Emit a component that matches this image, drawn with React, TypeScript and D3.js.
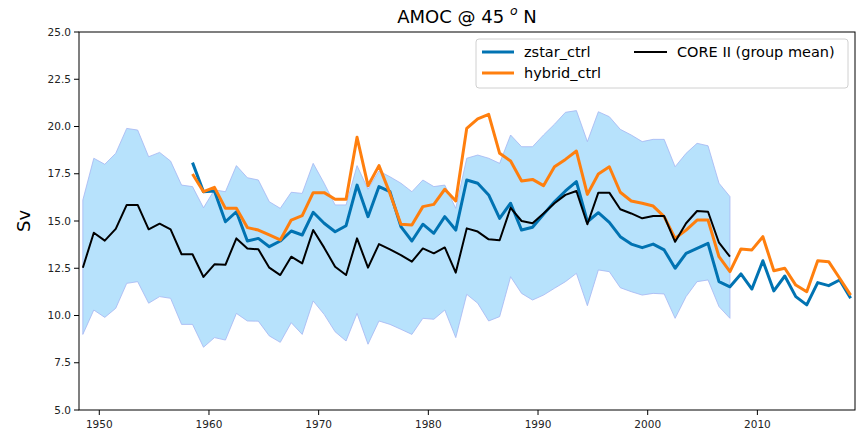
import React from "react";
import * as d3 from "d3";

// Annual means, plotted at mid-year
const coreYears = d3.range(1948.5, 2008, 1);
const coreMean = [
  12.53, 14.38, 13.96, 14.58, 15.85, 15.85, 14.56, 14.86, 14.56, 13.24,
  13.24, 12.04, 12.71, 12.68, 14.08, 13.55, 13.5, 12.53, 12.14, 13.11,
  12.76, 14.52, 13.59, 12.58, 12.14, 14.08, 12.53, 13.78, 13.5, 13.2,
  12.85, 13.55, 13.29, 13.6, 12.27, 14.61, 14.44, 14.03, 13.98, 15.7,
  15.0, 14.88, 15.4, 15.94, 16.38, 16.59, 14.83, 16.5, 16.5, 15.62,
  15.4, 15.14, 15.26, 15.26, 13.9, 14.88, 15.53, 15.49, 13.85, 13.11,
];
const coreUpper = [
  16.11, 18.32, 18.0, 18.58, 19.9, 19.81, 18.4, 18.63, 18.17, 16.9,
  16.82, 15.7, 16.65, 16.55, 17.93, 17.29, 17.17, 16.02, 15.67, 16.52,
  16.46, 18.05, 17.0, 15.85, 15.85, 17.93, 16.68, 17.65, 17.34, 17.0,
  16.55, 17.17, 16.82, 16.9, 15.67, 18.32, 18.49, 18.32, 18.05, 19.55,
  18.93, 18.93, 19.55, 20.12, 20.75, 20.84, 19.2, 20.78, 20.52, 19.85,
  19.55, 19.2, 19.32, 19.32, 17.87, 18.58, 19.11, 18.98, 17.0, 16.29,
];
const coreLower = [
  9.0, 10.29, 9.9, 10.38, 11.7, 11.79, 10.65, 11.0, 10.91, 9.53,
  9.53, 8.32, 8.83, 8.7, 10.11, 9.71, 9.7, 8.92, 8.58, 9.62,
  9.0, 10.77, 10.06, 9.14, 8.65, 10.11, 8.48, 9.71, 9.53, 9.27,
  9.0, 9.85, 9.8, 10.29, 8.83, 11.12, 10.65, 9.71, 9.94, 12.05,
  11.17, 10.82, 11.08, 11.44, 11.79, 12.23, 10.52, 12.41, 12.32, 11.47,
  11.26, 11.08, 11.17, 11.14, 9.85, 11.0, 11.79, 11.88, 10.47, 9.85,
];

const runYears = d3.range(1958.5, 2019, 1);
const zstarCtrl = [
  18.09, 16.55, 16.59, 14.96, 15.49, 13.94, 14.08, 13.64, 13.94, 14.47,
  14.26, 15.46, 14.88, 14.43, 14.75, 16.9, 15.23, 16.82, 16.55, 14.7,
  13.94, 14.83, 14.35, 15.23, 14.52, 17.17, 17.0, 16.38, 15.14, 15.94,
  14.52, 14.67, 15.35, 16.02, 16.59, 17.08, 14.96, 15.44, 14.93, 14.17,
  13.78, 13.59, 13.78, 13.47, 12.5, 13.29, 13.55, 13.82, 11.79, 11.52,
  12.2, 11.4, 12.9, 11.3, 12.09, 11.0, 10.56, 11.74, 11.58, 11.88,
  10.91,
];
const hybridCtrl = [
  17.49, 16.55, 16.78, 15.67, 15.67, 14.65, 14.52, 14.26, 14.0, 15.05,
  15.28, 16.5, 16.5, 16.15, 16.15, 19.43, 16.87, 17.93, 16.46, 14.83,
  14.79, 15.76, 15.88, 16.68, 16.06, 19.9, 20.4, 20.64, 18.58, 18.17,
  17.12, 17.2, 16.87, 17.87, 18.26, 18.7, 16.41, 17.49, 17.87, 16.52,
  16.06, 15.94, 15.79, 15.23, 14.08, 14.52, 15.05, 15.05, 13.11, 12.32,
  13.52, 13.47, 14.17, 12.37, 12.5, 11.61, 11.26, 12.9, 12.85, 11.97,
  11.08,
];

const yTicks = [5.0, 7.5, 10.0, 12.5, 15.0, 17.5, 20.0, 22.5, 25.0];
const xTicks = [1950, 1960, 1970, 1980, 1990, 2000, 2010];

const W = 858;
const H = 433;
const m = { left: 79, right: 855, top: 32, bottom: 410 };
const FONT = "'DejaVu Sans', sans-serif";

const BLUE = "#0173b2";
const ORANGE = "#ff7f0e";

export default function App() {
  const x = d3.scaleLinear().domain([1948.15, 2018.9]).range([m.left, m.right]);
  const y = d3.scaleLinear().domain([5, 25]).range([m.bottom, m.top]);

  const band = d3
    .area<number>()
    .x((_, i) => x(coreYears[i]))
    .y0((_, i) => y(coreLower[i]))
    .y1((_, i) => y(coreUpper[i]))(coreMean);

  const mkLine = (years: number[], vals: number[]) =>
    d3
      .line<number>()
      .x((_, i) => x(years[i]))
      .y((d) => y(d))(vals);

  return (
    <svg
      width={W}
      height={H}
      style={{ position: "absolute", left: 0, top: 0, background: "#fff" }}
      fontFamily={FONT}
    >
      <defs>
        <clipPath id="plotArea">
          <rect x={m.left} y={m.top} width={m.right - m.left} height={m.bottom - m.top} />
        </clipPath>
      </defs>

      <g clipPath="url(#plotArea)">
        <path d={band ?? ""} fill="#87cefa" fillOpacity={0.6} stroke="#a5b5f2" strokeWidth={1} strokeOpacity={0.8} />
        <path d={mkLine(runYears, zstarCtrl) ?? ""} fill="none" stroke={BLUE} strokeWidth={3} strokeLinejoin="round" />
        <path d={mkLine(runYears, hybridCtrl) ?? ""} fill="none" stroke={ORANGE} strokeWidth={3} strokeLinejoin="round" />
        <path d={mkLine(coreYears, coreMean) ?? ""} fill="none" stroke="#000" strokeWidth={2} strokeLinejoin="round" />
      </g>

      {/* frame */}
      <rect
        x={m.left}
        y={m.top}
        width={m.right - m.left}
        height={m.bottom - m.top}
        fill="none"
        stroke="#000"
        strokeWidth={1}
      />

      {/* y axis */}
      {yTicks.map((t) => (
        <g key={t} transform={`translate(${m.left},${y(t)})`}>
          <line x1={-5} x2={0} stroke="#000" />
          <text x={-8} dy="0.35em" textAnchor="end" fontSize={10.5} fill="#222">
            {t.toFixed(1)}
          </text>
        </g>
      ))}
      <text
        transform={`translate(30,${(m.top + m.bottom) / 2}) rotate(-90)`}
        textAnchor="middle"
        fontSize={18}
        fill="#000"
      >
        Sv
      </text>

      {/* x axis */}
      {xTicks.map((t) => (
        <g key={t} transform={`translate(${x(t)},${m.bottom})`}>
          <line y1={0} y2={5} stroke="#000" />
          <text y={18} textAnchor="middle" fontSize={10.5} fill="#222">
            {t}
          </text>
        </g>
      ))}

      {/* title */}
      <text x={(m.left + m.right) / 2} y={23} textAnchor="middle" fontSize={18} fill="#000">
        AMOC @ 45{" "}
        <tspan fontStyle="italic" fontSize={12.5} dy={-8}>
          o
        </tspan>
        <tspan dy={8}> N</tspan>
      </text>

      {/* legend */}
      <g>
        <rect x={476} y={39} width={372} height={49} rx={3} fill="#fff" fillOpacity={0.8} stroke="#d0d0d0" />
        <line x1={482} x2={514} y1={52} y2={52} stroke={BLUE} strokeWidth={3} />
        <text x={524} y={52} dy="0.35em" fontSize={14.5} fill="#000">zstar_ctrl</text>
        <line x1={482} x2={514} y1={73} y2={73} stroke={ORANGE} strokeWidth={3} />
        <text x={524} y={73} dy="0.35em" fontSize={14.5} fill="#000">hybrid_ctrl</text>
        <line x1={634} x2={667} y1={52} y2={52} stroke="#000" strokeWidth={2} />
        <text x={677} y={52} dy="0.35em" fontSize={14.5} fill="#000">CORE II (group mean)</text>
      </g>
    </svg>
  );
}
